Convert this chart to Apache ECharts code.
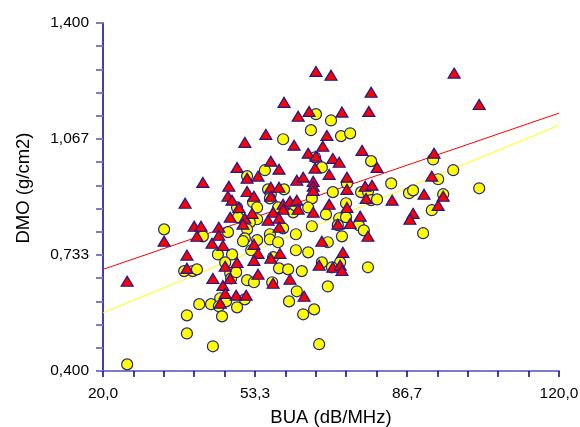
<!DOCTYPE html>
<html>
<head>
<meta charset="utf-8">
<script src="https://cdn.jsdelivr.net/npm/echarts@6/dist/echarts.min.js"></script>
<style>
html,body{margin:0;padding:0;background:#fff;}
#chart{width:580px;height:427px;}
</style>
</head>
<body>
<div id="chart"></div>
<script>
// Red triangles: BUA (dB/MHz), DMO (g/cm2)
const triangleBUA = [25.3,33.4,38.0,38.4,38.4,40.0,41.5,40.6,41.9,43.9,44.1,45.4,45.4,46.3,46.8,46.3,45.7,46.8,49.2,51.4,49.4,47.9,47.4,48.3,47.6,49.4,51.1,51.6,49.8,47.9,51.1,52.7,50.7,51.6,53.1,53.1,54.0,53.1,54.0,54.0,55.7,56.8,58.6,56.8,58.6,56.8,59.5,59.5,57.3,56.2,58.6,58.6,56.8,58.8,57.3,59.7,61.9,62.5,63.9,61.0,62.5,62.8,61.0,64.1,62.8,65.2,66.7,65.0,66.7,66.5,66.1,66.1,66.1,66.1,68.2,69.1,70.0,70.4,71.8,69.6,69.6,68.0,67.4,70.4,72.0,72.4,72.6,72.4,73.5,73.5,73.5,71.5,74.2,76.4,78.1,76.8,78.8,78.3,80.1,77.5,79.0,77.7,83.4,97.0,102.5,92.6,92.1,90.4,94.6,93.5,88.0,87.3];
const triangleDMO = [0.658,0.773,0.882,0.733,0.695,0.816,0.816,0.787,0.942,0.767,0.666,0.813,0.790,0.761,0.701,0.646,0.595,0.623,0.618,0.618,0.712,0.666,0.902,0.891,0.931,0.985,1.057,0.954,0.870,0.842,0.839,0.853,0.822,0.916,0.902,0.764,0.738,0.718,0.678,0.960,1.080,1.003,0.980,0.928,0.928,0.902,0.879,0.865,0.856,0.833,0.839,0.813,0.724,0.738,0.652,1.172,1.049,0.948,0.957,0.888,0.891,0.865,0.664,0.615,1.132,1.146,1.261,1.026,1.017,0.983,0.945,0.931,0.919,0.856,1.046,1.077,1.250,1.011,1.000,0.965,0.879,0.773,0.704,0.698,0.704,0.689,0.741,1.144,0.957,0.922,0.870,0.822,0.824,0.845,0.787,1.034,1.201,1.146,0.985,0.931,0.934,0.896,0.891,1.256,1.166,1.026,0.960,0.908,0.902,0.876,0.853,0.836];
// Yellow circles
const circleBUA = [25.3,33.4,37.8,39.7,40.6,38.4,38.4,44.1,41.1,43.7,41.9,45.2,48.3,46.8,47.9,48.1,49.2,47.4,45.7,47.0,51.1,45.4,49.4,46.1,51.6,53.1,49.6,49.4,51.6,55.5,59.5,52.9,53.8,53.8,52.2,51.6,51.1,50.7,53.8,52.5,56.6,56.6,58.4,57.3,58.6,60.6,63.6,57.1,56.2,59.7,56.8,56.6,58.4,59.5,61.7,62.1,65.6,66.7,70.0,72.2,74.2,66.5,68.0,73.5,70.4,65.8,65.0,68.9,71.8,73.3,73.3,71.5,76.1,77.2,72.4,69.3,65.8,62.3,62.3,65.0,68.0,72.0,70.2,78.1,69.3,62.5,60.8,66.3,63.9,67.4,78.8,76.6,78.1,78.8,80.1,83.2,92.4,96.8,93.5,102.5,87.1,88.0,94.6,92.1,90.2];
const circleDMO = [0.419,0.807,0.687,0.687,0.692,0.560,0.508,0.471,0.592,0.592,0.787,0.735,0.735,0.712,0.681,0.666,0.684,0.799,0.609,0.600,0.606,0.586,0.583,0.557,0.661,0.655,0.842,0.870,0.960,0.977,1.066,0.885,0.870,0.836,0.827,0.807,0.781,0.773,0.776,0.747,0.793,0.778,0.770,0.727,0.695,0.692,0.687,0.655,0.922,0.922,0.908,0.896,0.870,0.810,0.856,0.876,1.092,1.138,1.120,1.075,1.083,1.014,0.985,0.939,0.914,0.896,0.870,0.850,0.839,0.842,0.882,0.819,0.819,0.804,0.787,0.770,0.816,0.793,0.747,0.741,0.712,0.712,0.698,0.698,0.643,0.629,0.600,0.577,0.563,0.477,1.003,0.914,0.916,0.891,0.893,0.939,1.008,0.977,0.951,0.925,0.911,0.919,0.908,0.862,0.796];
// Fitted lines (endpoints)
const redLineBUA = [20, 120];
const redLineDMO = [0.692, 1.141];
const yellowLineBUA = [20, 120];
const yellowLineDMO = [0.567, 1.106];
// Axis ticks
const xMajorTicks = [20, 53.333, 86.667, 120];
const yMajorTicks = [0.4, 0.7333, 1.0667, 1.4];

const zip = (a, b) => a.map((v, i) => [v, b[i]]);
const isMajor = (v, ticks, tol) => ticks.some(t => Math.abs(t - v) < tol);

const chart = echarts.init(document.getElementById('chart'), null, {renderer: 'canvas'});
const font = 'Liberation Sans, Arial, sans-serif';
chart.setOption({
  backgroundColor: '#ffffff',
  animation: false,
  grid: {left: 103, right: 21, top: 23, bottom: 56, containLabel: false, outerBoundsMode: 'none'},
  xAxis: {
    type: 'value', min: 20, max: 120, interval: 100/15,
    name: 'BUA (dB/MHz)', nameLocation: 'middle', nameGap: 37,
    nameTextStyle: {fontFamily: font, fontSize: 18.5, color: '#000'},
    axisLine: {lineStyle: {color: '#7b7bc8', width: 2}},
    axisTick: {show: true, length: 6, lineStyle: {color: '#00008b', width: 1.5}},
    axisLabel: {
      fontFamily: font, fontSize: 15.5, color: '#000', margin: 15, showMinLabel: true, showMaxLabel: true,
      formatter: v => isMajor(v, xMajorTicks, 0.01) ? v.toFixed(1).replace('.', ',') : ''
    },
    splitLine: {show: false}
  },
  yAxis: {
    type: 'value', min: 0.4, max: 1.4, interval: 1/15,
    name: 'DMO (g/cm2)', nameLocation: 'middle', nameGap: 70,
    nameTextStyle: {fontFamily: font, fontSize: 18.5, color: '#000', padding: [0, 0, 0, 18]},
    axisLine: {show: true, lineStyle: {color: '#00008b', width: 1.5}},
    axisTick: {show: true, length: 7, lineStyle: {color: '#7b7bc8', width: 2}},
    axisLabel: {
      fontFamily: font, fontSize: 15.5, color: '#000', margin: 14, showMinLabel: true, showMaxLabel: true,
      formatter: v => isMajor(v, yMajorTicks, 0.001) ? v.toFixed(3).replace('.', ',') : ''
    },
    splitLine: {show: false}
  },
  series: [
    {
      type: 'line', data: zip(redLineBUA, redLineDMO), symbol: 'none', z: 1,
      lineStyle: {color: '#ff0000', width: 1}, silent: true
    },
    {
      type: 'line', data: zip(yellowLineBUA, yellowLineDMO), symbol: 'none', z: 1,
      lineStyle: {color: '#ffff00', width: 1}, silent: true
    },
    {
      type: 'scatter', data: zip(circleBUA, circleDMO), symbol: 'circle', symbolSize: 11, z: 2,
      itemStyle: {color: '#ffff00', borderColor: '#23237a', borderWidth: 1.2, opacity: 1}
    },
    {
      type: 'scatter', data: zip(triangleBUA, triangleDMO), symbol: 'triangle', symbolSize: [12, 10], z: 3,
      itemStyle: {color: '#ff0000', borderColor: '#1a1a8c', borderWidth: 1.2, opacity: 1}
    }
  ]
});
</script>
</body>
</html>
